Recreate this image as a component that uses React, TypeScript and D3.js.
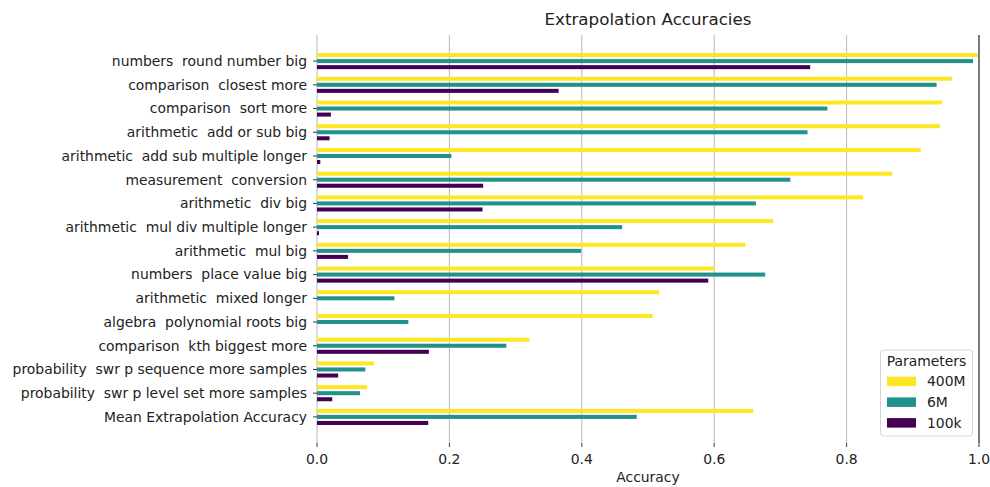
import React from "react";
import * as d3 from "d3";

const categories = [
  "numbers  round number big",
  "comparison  closest more",
  "comparison  sort more",
  "arithmetic  add or sub big",
  "arithmetic  add sub multiple longer",
  "measurement  conversion",
  "arithmetic  div big",
  "arithmetic  mul div multiple longer",
  "arithmetic  mul big",
  "numbers  place value big",
  "arithmetic  mixed longer",
  "algebra  polynomial roots big",
  "comparison  kth biggest more",
  "probability  swr p sequence more samples",
  "probability  swr p level set more samples",
  "Mean Extrapolation Accuracy",
];

const series400M = [0.998, 0.959, 0.944, 0.941, 0.912, 0.869, 0.825, 0.689, 0.647, 0.601, 0.517, 0.507, 0.321, 0.086, 0.076, 0.659];
const series6M = [0.991, 0.936, 0.771, 0.741, 0.203, 0.715, 0.663, 0.461, 0.399, 0.677, 0.117, 0.138, 0.286, 0.073, 0.065, 0.483];
const series100k = [0.745, 0.365, 0.021, 0.019, 0.005, 0.251, 0.25, 0.003, 0.047, 0.591, 0.0, 0.0, 0.169, 0.032, 0.023, 0.168];

const seriesNames = ["400M", "6M", "100k"];
const xTicks = [0, 0.2, 0.4, 0.6, 0.8, 1.0];

const W = 990;
const H = 487;
const font = "DejaVu Sans, sans-serif";
const colors = ["#fde725", "#21918c", "#440154"];

export default function App() {
  const left = 317;
  const right = 979;
  const top = 35;
  const bottom = 443;
  const x = d3.scaleLinear().domain([0, 1]).range([left, right]);
  const y = d3.scaleLinear().domain([-1.1, categories.length - 1 + 1.1]).range([top, bottom]);
  const allSeries = [series400M, series6M, series100k];
  const offsets = [-0.255, 0, 0.255];
  const bh = 0.17;
  const fs = 13.9;

  return (
    <svg width={W} height={H} style={{ position: "absolute", left: 0, top: 0, background: "#fff" }} fontFamily={font}>
      {/* grid */}
      {xTicks.slice(0, 5).map((t) => (
        <line key={"g" + t} x1={x(t)} x2={x(t)} y1={top} y2={bottom} stroke="#b0b0b0" strokeWidth={0.9} />
      ))}
      {/* bars */}
      {allSeries.map((s, si) =>
        s.map((v, i) => {
          const yc = y(i + offsets[si]);
          const h = y(bh) - y(0);
          return (
            <rect key={si + "-" + i} x={x(0)} y={yc - h / 2} width={x(v) - x(0)} height={h} fill={colors[si]} />
          );
        })
      )}
      {/* right line at 1.0 */}
      <line x1={x(1)} x2={x(1)} y1={top} y2={bottom} stroke="#222" strokeWidth={1.2} />
      {/* y ticks */}
      {categories.map((c, i) => (
        <g key={c}>
          <line x1={left - 4} x2={left} y1={y(i)} y2={y(i)} stroke="#222" strokeWidth={0.9} />
          <text x={left - 10} y={y(i)} dy="0.35em" textAnchor="end" fontSize={fs} fill="#222" style={{ whiteSpace: "pre" }}>
            {c}
          </text>
        </g>
      ))}
      {/* x ticks */}
      {xTicks.map((t) => (
        <g key={"x" + t}>
          <line x1={x(t)} x2={x(t)} y1={bottom} y2={bottom + 4} stroke="#222" strokeWidth={0.9} />
          <text x={x(t)} y={464} textAnchor="middle" fontSize={fs} fill="#222">
            {d3.format(".1f")(t)}
          </text>
        </g>
      ))}
      <text x={(left + right) / 2} y={482} textAnchor="middle" fontSize={fs} fill="#222">
        Accuracy
      </text>
      <text x={(left + right) / 2} y={25} textAnchor="middle" fontSize={16.7} fill="#222">
        Extrapolation Accuracies
      </text>
      {/* legend */}
      <g>
        <rect x={880.5} y={350} width={92} height={86} rx={3} fill="#fff" fillOpacity={0.8} stroke="#d5d5d5" />
        <text x={926.5} y={366} textAnchor="middle" fontSize={fs} fill="#222">
          Parameters
        </text>
        {seriesNames.map((n, i) => (
          <g key={n}>
            <rect x={887} y={376.7 + i * 20.7} width={29} height={9.5} fill={colors[i]} />
            <text x={927} y={381.5 + i * 20.7} dy="0.35em" fontSize={fs} fill="#222">
              {n}
            </text>
          </g>
        ))}
      </g>
    </svg>
  );
}
